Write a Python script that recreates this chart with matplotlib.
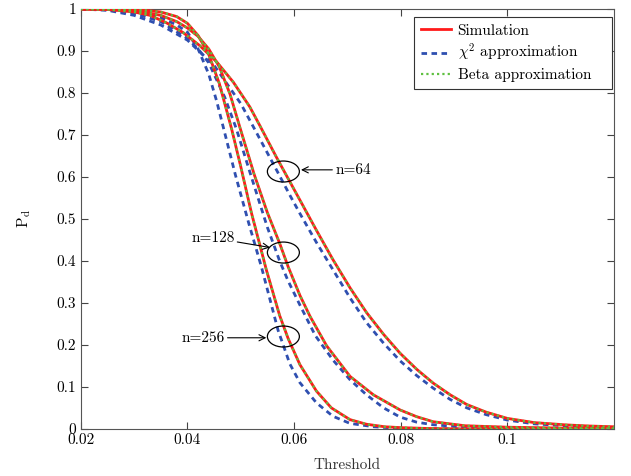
import numpy as np
import matplotlib
matplotlib.use("Agg")
from matplotlib import pyplot as plt
from matplotlib.patches import Ellipse

plt.rcParams['font.family'] = 'serif'
plt.rcParams['font.serif'] = ['cmr10']
plt.rcParams['mathtext.fontset'] = 'cm'
plt.rcParams['axes.formatter.use_mathtext'] = True

# simulation curves
t_sim_64 = [0.02, 0.025, 0.03, 0.033, 0.0361, 0.0392, 0.0423, 0.0455, 0.0486, 0.0517, 0.0536,
            0.0567, 0.0592, 0.0611, 0.0642, 0.0673, 0.0705, 0.0736, 0.0768, 0.0799, 0.083,
            0.0861, 0.0893, 0.0924, 0.096, 0.1, 0.105, 0.111, 0.115, 0.12]
pd_sim_64 = [1.0, 0.999, 0.993, 0.985, 0.967, 0.944, 0.913, 0.874, 0.826, 0.767, 0.722,
             0.647, 0.589, 0.545, 0.473, 0.403, 0.336, 0.277, 0.225, 0.180, 0.142,
             0.109, 0.081, 0.058, 0.040, 0.025, 0.015, 0.0095, 0.007, 0.005]

t_sim_128 = [0.02, 0.025, 0.03, 0.035, 0.038, 0.04, 0.042, 0.044, 0.046, 0.048, 0.0498,
             0.0525, 0.055, 0.0573, 0.0589, 0.0611, 0.063, 0.0661, 0.0705, 0.0749, 0.0799,
             0.083, 0.0861, 0.092, 0.1, 0.11, 0.12]
pd_sim_128 = [1.0, 1.0, 0.997, 0.985, 0.97, 0.955, 0.935, 0.905, 0.862, 0.797, 0.72,
              0.607, 0.515, 0.442, 0.386, 0.318, 0.268, 0.198, 0.125, 0.081, 0.045,
              0.029, 0.017, 0.0075, 0.004, 0.002, 0.001]

t_sim_256 = [0.02, 0.025, 0.03, 0.035, 0.038, 0.04, 0.042, 0.044, 0.046, 0.0483, 0.05,
             0.052, 0.0548, 0.0573, 0.0589, 0.0611, 0.0642, 0.067, 0.0705, 0.0736, 0.077,
             0.08, 0.085, 0.09, 0.1, 0.12]
pd_sim_256 = [1.0, 1.0, 1.0, 0.993, 0.982, 0.966, 0.937, 0.892, 0.822, 0.714, 0.625,
              0.515, 0.379, 0.27, 0.215, 0.153, 0.09, 0.05, 0.022, 0.011, 0.005,
              0.003, 0.001, 0.0, 0.0, 0.0]

# chi^2 approximation
t_chi_64 = [0.02, 0.025, 0.03, 0.035, 0.04, 0.045, 0.05, 0.0526, 0.0567, 0.0592, 0.0611,
            0.0642, 0.0673, 0.0705, 0.0736, 0.0768, 0.0799, 0.083, 0.0861, 0.0893, 0.0924,
            0.096, 0.1, 0.105, 0.11, 0.115, 0.12]
pd_chi_64 = [1.0, 0.997, 0.985, 0.962, 0.926, 0.866, 0.775, 0.714, 0.617, 0.557, 0.513,
             0.444, 0.379, 0.312, 0.253, 0.204, 0.162, 0.127, 0.097, 0.070, 0.050,
             0.034, 0.021, 0.012, 0.008, 0.005, 0.003]

t_chi_128 = [0.02, 0.025, 0.03, 0.035, 0.04, 0.042, 0.044, 0.047, 0.0492, 0.052, 0.055,
             0.0573, 0.0589, 0.0611, 0.064, 0.0673, 0.0705, 0.0736, 0.0768, 0.0799, 0.083,
             0.086, 0.092, 0.1, 0.12]
pd_chi_128 = [1.0, 0.998, 0.99, 0.97, 0.93, 0.905, 0.872, 0.79, 0.714, 0.6, 0.48,
              0.40, 0.352, 0.295, 0.222, 0.164, 0.117, 0.081, 0.050, 0.028, 0.016,
              0.010, 0.004, 0.002, 0.0]

t_chi_256 = [0.02, 0.025, 0.03, 0.035, 0.038, 0.04, 0.042, 0.044, 0.0455, 0.0467, 0.049,
             0.0515, 0.0539, 0.057, 0.0592, 0.0611, 0.0642, 0.0673, 0.0705, 0.075, 0.08,
             0.09, 0.12]
pd_chi_256 = [1.0, 0.999, 0.995, 0.98, 0.962, 0.945, 0.905, 0.845, 0.78, 0.72, 0.605,
              0.49, 0.385, 0.235, 0.155, 0.11, 0.062, 0.03, 0.013, 0.005, 0.001,
              0.0, 0.0]

# Beta approximation sits on top of the simulation
t_beta_64, pd_beta_64 = t_sim_64, pd_sim_64
t_beta_128, pd_beta_128 = t_sim_128, pd_sim_128
t_beta_256, pd_beta_256 = t_sim_256, pd_sim_256

red = '#ff1a1a'
blue = '#2f4fb0'
green = '#5fc040'

fig = plt.figure(figsize=(6.31, 4.76), dpi=100)
ax = fig.add_axes([0.128, 0.099, 0.845, 0.882])

for t, p in [(t_sim_64, pd_sim_64), (t_sim_128, pd_sim_128), (t_sim_256, pd_sim_256)]:
    l_sim, = ax.plot(t, p, color=red, lw=2.0, zorder=3)
for t, p in [(t_chi_64, pd_chi_64), (t_chi_128, pd_chi_128), (t_chi_256, pd_chi_256)]:
    l_chi, = ax.plot(t, p, color=blue, lw=2.0, ls=(0, (2.0, 1.6)), zorder=2)
for t, p in [(t_beta_64, pd_beta_64), (t_beta_128, pd_beta_128), (t_beta_256, pd_beta_256)]:
    l_beta, = ax.plot(t, p, color=green, lw=1.6, ls=(0, (1.0, 1.4)), zorder=4)

# ellipses + labels
for cy in [0.613, 0.42, 0.22]:
    ax.add_patch(Ellipse((0.058, cy), 0.006, 0.05, fill=False, lw=0.9, color='k', zorder=5))

ax.annotate('n=64', xy=(0.0613, 0.617), xytext=(0.0677, 0.617), fontsize=11, va='center',
            arrowprops=dict(arrowstyle='->', lw=0.8, color='k', shrinkA=0, shrinkB=0))
ax.annotate('n=128', xy=(0.0555, 0.432), xytext=(0.0407, 0.455), fontsize=11, va='center',
            arrowprops=dict(arrowstyle='->', lw=0.8, color='k', shrinkA=0, shrinkB=0))
ax.annotate('n=256', xy=(0.0548, 0.217), xytext=(0.0389, 0.217), fontsize=11, va='center',
            arrowprops=dict(arrowstyle='->', lw=0.8, color='k', shrinkA=0, shrinkB=0))

ax.set_xlim(0.02, 0.12)
ax.set_ylim(0, 1)
ax.set_xticks([0.02, 0.04, 0.06, 0.08, 0.1])
ax.set_xticklabels(['0.02', '0.04', '0.06', '0.08', '0.1'])
ax.set_yticks(np.arange(0, 1.01, 0.1))
ax.set_yticklabels(['0', '0.1', '0.2', '0.3', '0.4', '0.5', '0.6', '0.7', '0.8', '0.9', '1'])
ax.tick_params(direction='in', top=True, right=True, labelsize=11, length=5, width=0.8,
               color='#444444')
for s in ax.spines.values():
    s.set_color('#555555')
    s.set_linewidth(0.8)
ax.set_xlabel('Threshold', fontsize=11, color='#333333', labelpad=8)
ax.set_ylabel(r'$\mathrm{P_d}$', fontsize=11, labelpad=17)

leg = ax.legend([l_sim, l_chi, l_beta], ['Simulation', r'$\chi^2$ approximation', 'Beta approximation'],
                loc='upper left', bbox_to_anchor=(0.625, 0.814, 0.371, 0.167), mode='expand',
                fontsize=11, fancybox=False, framealpha=1, edgecolor='#333333',
                handlelength=2.0, borderpad=0.45, labelspacing=0.3, handletextpad=0.4,
                borderaxespad=0)
leg.get_frame().set_linewidth(0.8)

fig.savefig('out.png', dpi=100)
